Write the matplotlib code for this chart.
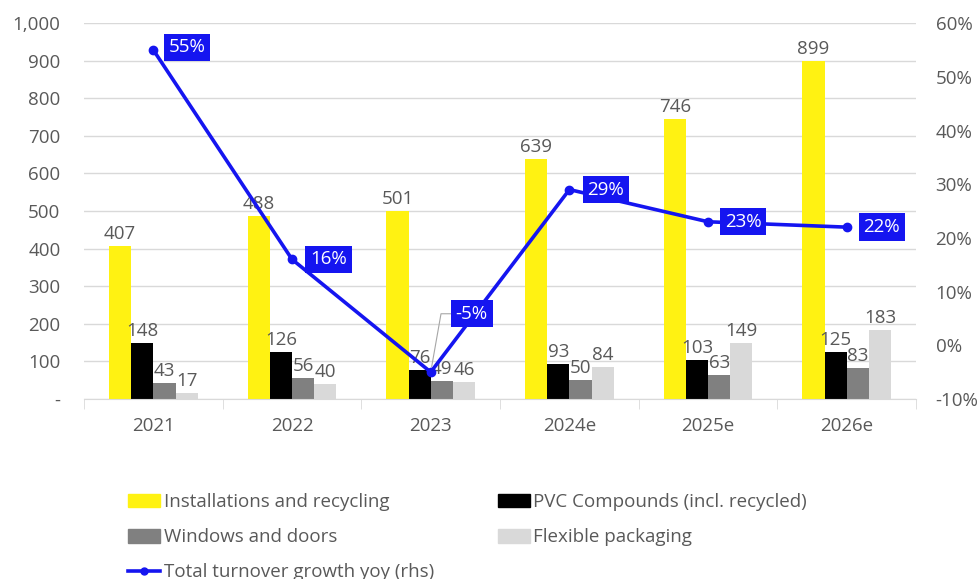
import numpy as np
import matplotlib
matplotlib.use('Agg')
import matplotlib.pyplot as plt
from matplotlib.lines import Line2D
from matplotlib.patches import Patch

plt.rcParams['font.family'] = ['Open Sans', 'DejaVu Sans']

# data
years = ['2021', '2022', '2023', '2024e', '2025e', '2026e']
installations = [407, 488, 501, 639, 746, 899]
pvc_compounds = [148, 126, 76, 93, 103, 125]
windows_doors = [43, 56, 49, 50, 63, 83]
flexible_pack = [17, 40, 46, 84, 149, 183]
growth = [0.55, 0.16, -0.05, 0.29, 0.23, 0.22]

names = ['Installations and recycling', 'PVC Compounds (incl. recycled)',
         'Windows and doors', 'Flexible packaging']
colors = ['#FFF212', '#000000', '#808080', '#D9D9D9']
line_col = '#1515F0'
txt_col = '#595959'
fs = 13.5

fig = plt.figure(figsize=(9.79, 5.79), dpi=100)
ax = fig.add_axes([0.0858, 0.311, 0.85, 0.649])
ax2 = ax.twinx()

x = np.arange(len(years))
w = 0.16
series = [installations, pvc_compounds, windows_doors, flexible_pack]
for i, (vals, c) in enumerate(zip(series, colors)):
    pos = x + (i - 1.5) * w
    ax.bar(pos, vals, width=w, color=c, zorder=2)
    for p, v in zip(pos, vals):
        ax.text(p, v + 8, str(v), ha='center', va='bottom', fontsize=fs, color=txt_col)

ax.set_xlim(-0.5, len(years) - 0.5)
ax.set_ylim(0, 1000)
ax.set_yticks(np.arange(0, 1001, 100))
ax.set_yticklabels(['-'] + [f'{v:,}' for v in range(100, 1001, 100)])
ax.grid(axis='y', color='#D9D9D9', lw=1, zorder=0)
ax.set_axisbelow(True)
ax.set_xticks(x)
ax.set_xticklabels(years)
ax.set_xticks(np.arange(-0.5, len(years), 1), minor=True)
ax.tick_params(axis='x', which='major', length=0, pad=13, labelsize=fs, labelcolor=txt_col)
ax.tick_params(axis='x', which='minor', length=7, color='#D9D9D9', direction='out')
ax.tick_params(axis='y', length=0, pad=17, labelsize=fs, labelcolor=txt_col)
for s in ['top', 'left', 'right']:
    ax.spines[s].set_visible(False)
ax.spines['bottom'].set_color('#D9D9D9')

ax2.plot(x, growth, color=line_col, lw=2.6, marker='o', ms=6, zorder=5)
ax2.set_ylim(-0.10, 0.60)
ax2.set_yticks(np.arange(-0.10, 0.61, 0.10))
ax2.set_yticklabels([f'{int(round(v * 100))}%' for v in np.arange(-0.10, 0.61, 0.10)])
ax2.tick_params(axis='y', length=0, pad=14, labelsize=fs, labelcolor=txt_col)
for s in ax2.spines.values():
    s.set_visible(False)

box = dict(boxstyle='square,pad=0.25', fc=line_col, ec='none')
offsets = [(11, 2), (13, 0), (18, 42), (13, 0), (12, 0), (12, 0)]
for xi, g, off in zip(x, growth, offsets):
    arrow = None
    if off[1] > 20:
        arrow = dict(arrowstyle='-', color='#A6A6A6', lw=0.8,
                     connectionstyle='angle,angleA=0,angleB=80,rad=0', shrinkA=0, shrinkB=4)
    ax2.annotate(f'{int(round(g * 100))}%', xy=(xi, g), xytext=off,
                 textcoords='offset points', ha='left', va='center',
                 fontsize=fs, color='white', bbox=box, arrowprops=arrow, zorder=6)

handles = [Patch(color=colors[0]), Patch(color=colors[2]),
           Line2D([], [], color=line_col, lw=2.6, marker='o', ms=5),
           Patch(color=colors[1]), Patch(color=colors[3])]
labels = [names[0], names[2], 'Total turnover growth yoy (rhs)', names[1], names[3]]
fig.legend(handles, labels, ncol=2, loc='upper left', bbox_to_anchor=(0.131, 0.148),
           frameon=False, fontsize=fs, labelcolor=txt_col, handlelength=1.7,
           handleheight=0.72, handletextpad=0.2, columnspacing=3.4, labelspacing=0.91,
           borderpad=0, borderaxespad=0)

fig.savefig('out.png', dpi=100)
